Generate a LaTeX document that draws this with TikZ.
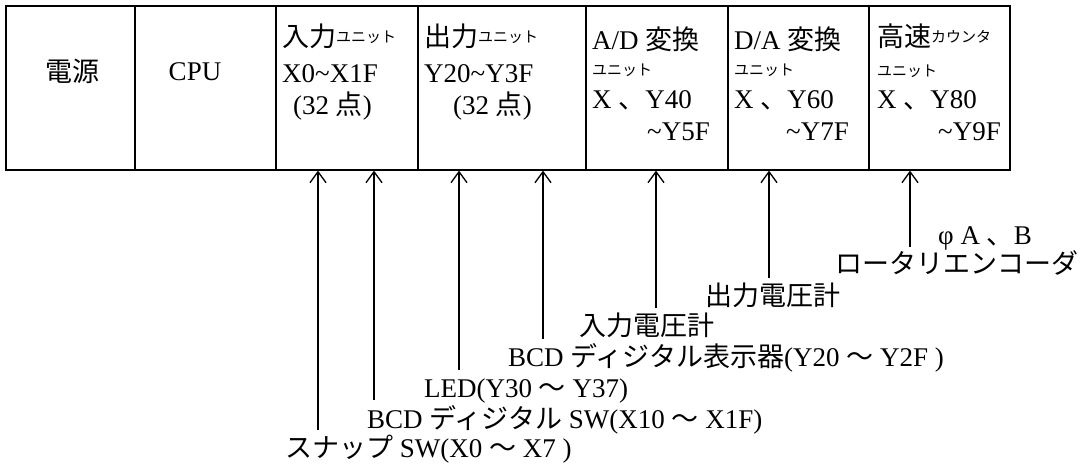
\documentclass[tikz,border=0pt]{standalone}
\usepackage{fontspec}
\setmainfont{Liberation Serif}
\newfontfamily\jp{Noto Sans CJK JP}
\usetikzlibrary{arrows.meta}
\newcommand\smallkana{\fontsize{15}{17}\selectfont}
\newcommand\raisedkana[1]{\raisebox{4pt}{\smallkana #1}}
\begin{document}
\begin{tikzpicture}[x=1pt,y=-1pt,
  cell/.style={draw, line width=1.6pt, inner sep=0pt, minimum height=164pt, anchor=north west},
  txt/.style={anchor=base west, inner sep=0pt, font=\fontsize{27}{30}\selectfont},
  txtr/.style={txt, anchor=base east},
  txtc/.style={txt, anchor=base},
  arr/.style={line width=1.3pt, -{Straight Barb[length=11pt,width=16pt,line width=1.3pt]}}
]
\useasboundingbox (0,0) rectangle (1091,465);
% cells
\node[cell, minimum width=129pt] (pw) at (5,5) {};
\node[cell, minimum width=141pt] (cpu) at (134,5) {};
\node[cell, minimum width=142pt] (in) at (275,5) {};
\node[cell, minimum width=168pt] (out) at (417,5) {};
\node[cell, minimum width=142pt] (ad) at (585,5) {};
\node[cell, minimum width=141pt] (da) at (727,5) {};
\node[cell, minimum width=141pt] (hs) at (868,5) {};
% cell texts
\node[txtc] (t0) at (72,82) {\jp 電源};
\node[txtc] (t1) at (195,81) {CPU};
\node[txt] (t2a) at (282,47) {\jp 入力\raisedkana{ユニット}};
\node[txt] (t2b) at (282,83) {X0\textasciitilde X1F};
\node[txt] (t2c) at (293,115) {(32 {\jp 点})};
\node[txt] (t3a) at (424,47) {\jp 出力\raisedkana{ユニット}};
\node[txt] (t3b) at (424,83) {Y20\textasciitilde Y3F};
\node[txt] (t3c) at (453,115) {(32 {\jp 点})};
\node[txt] (t4a) at (592,50) {A/D {\jp 変換}};
\node[txt] (t4b) at (592,76) {\jp\smallkana ユニット};
\node[txt] (t4c) at (592,109) {X {\jp 、}Y40};
\node[txtr] (t4d) at (710,141) {\textasciitilde Y5F};
\node[txt] (t5a) at (734,50) {D/A {\jp 変換}};
\node[txt] (t5b) at (734,76) {\jp\smallkana ユニット};
\node[txt] (t5c) at (734,109) {X {\jp 、}Y60};
\node[txtr] (t5d) at (849,141) {\textasciitilde Y7F};
\node[txt] (t6a) at (877,47) {\jp 高速\raisedkana{カウンタ}};
\node[txt] (t6b) at (877,77) {\jp\smallkana ユニット};
\node[txt] (t6c) at (877,109) {X {\jp 、}Y80};
\node[txtr] (t6d) at (1001,141) {\textasciitilde Y9F};
% labels
\node[txt] (l1) at (285,457) {{\jp スナップ} SW(X0 {\jp 〜} X7 )};
\node[txt] (l2) at (367,428) {BCD {\jp ディジタル} SW(X10 {\jp 〜} X1F)};
\node[txt] (l3) at (424,397) {LED(Y30 {\jp 〜} Y37)};
\node[txt] (l4) at (508,366) {BCD {\jp ディジタル表示器}(Y20 {\jp 〜} Y2F )};
\node[txt] (l5) at (579,335) {\jp 入力電圧計};
\node[txt] (l6) at (705,305) {\jp 出力電圧計};
\node[txt] (l7) at (835,273) {\jp ロータリエンコーダ};
\node[txt] (l8) at (938,244) {φ A {\jp 、}B};
% arrows
\coordinate (a1) at (318,430);
\coordinate (a2) at (374,400);
\coordinate (a3) at (459,370);
\coordinate (a4) at (543,339);
\coordinate (a5) at (656,308);
\coordinate (a6) at (769,278);
\coordinate (a7) at (910,247);
\draw[arr] (a1) -- (a1 |- in.south);
\draw[arr] (a2) -- (a2 |- in.south);
\draw[arr] (a3) -- (a3 |- out.south);
\draw[arr] (a4) -- (a4 |- out.south);
\draw[arr] (a5) -- (a5 |- ad.south);
\draw[arr] (a6) -- (a6 |- da.south);
\draw[arr] (a7) -- (a7 |- hs.south);
\end{tikzpicture}
\end{document}
